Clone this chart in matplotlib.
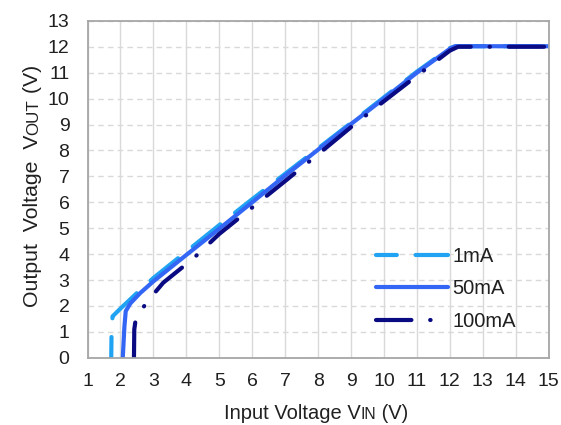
import matplotlib
matplotlib.use("Agg")
import matplotlib.pyplot as plt

plt.rcParams['font.family'] = ['Liberation Sans', 'DejaVu Sans']

# data
vin_1ma = [1.72, 1.73, 1.76, 2.0, 2.5, 3.0, 4.0, 5.0, 6.0, 7.0, 8.0, 9.0, 10.0, 11.0, 12.0, 12.2, 13.0, 14.0, 15.0]
vout_1ma = [0.0, 1.0, 1.6, 1.9, 2.5, 3.08, 4.1, 5.12, 6.12, 7.1, 8.08, 9.06, 10.05, 11.04, 11.95, 12.02, 12.02, 12.02, 12.02]

vin_50ma = [2.07, 2.12, 2.16, 2.3, 2.6, 3.0, 4.0, 5.0, 6.0, 7.0, 8.0, 9.0, 10.0, 11.0, 12.0, 12.15, 13.0, 14.0, 15.0]
vout_50ma = [0.0, 1.2, 1.8, 2.1, 2.5, 2.95, 3.97, 4.98, 6.0, 7.03, 8.03, 9.02, 10.0, 11.0, 11.92, 12.02, 12.02, 12.02, 12.02]

vin_100ma = [2.41, 2.42, 2.47, 2.6, 3.0, 3.3, 4.2, 5.0, 6.0, 7.0, 8.0, 9.0, 10.0, 11.0, 12.0, 12.25, 13.0, 14.0, 15.0]
vout_100ma = [0.0, 1.1, 1.55, 1.8, 2.45, 2.9, 3.82, 4.78, 5.8, 6.82, 7.85, 8.9, 9.9, 10.88, 11.85, 12.0, 12.0, 12.0, 12.0]

labels = ['1mA', '50mA', '100mA']
colors = ['#1FA3F2', '#3366F5', '#0A0A82']

x_ticks = list(range(1, 16))
y_ticks = list(range(0, 14))

FS = 14        # tick labels
LFS = 14.5     # axis labels and legend

fig = plt.figure(figsize=(5.61, 4.25), dpi=100)
ax = fig.add_axes([0.156, 0.158, 0.822, 0.793])

lw = 3.0
ax.plot(vin_1ma, vout_1ma, color=colors[0], lw=lw, label=labels[0],
        linestyle=(3.5, (8.5, 4.5)), dash_capstyle='round', solid_capstyle='round')
ax.plot(vin_50ma, vout_50ma, color=colors[1], lw=lw, label=labels[1],
        solid_capstyle='round')
ax.plot(vin_100ma, vout_100ma, color=colors[2], lw=lw, label=labels[2],
        linestyle=(0, (8.5, 4.5, 0.1, 4.5)), dash_capstyle='round')

ax.set_xlim(1, 15)
ax.set_ylim(0, 13)
ax.set_xticks(x_ticks)
ax.set_yticks(y_ticks)
ax.tick_params(length=0, labelsize=FS, colors='#202020')
ax.tick_params(axis='y', pad=13)
ax.tick_params(axis='x', pad=11)

ax.grid(axis='x', color='#D9D9D9', lw=1.0, ls='-')
ax.grid(axis='y', color='#D9D9D9', lw=1.0, ls=(0, (4, 3)))
ax.set_axisbelow(True)
for s in ax.spines.values():
    s.set_color('#A6A6A6')
    s.set_linewidth(1.3)

leg = ax.legend(loc='center left', bbox_to_anchor=(0.626, 0.205), frameon=False,
                fontsize=LFS, handlelength=3.55, handletextpad=0.25,
                labelspacing=0.67, borderpad=0, borderaxespad=0)
for t in leg.get_texts():
    t.set_color('#202020')

# axis labels with small caps style "IN" / "OUT"
fig.canvas.draw()
renderer = fig.canvas.get_renderer()


def mixed_label(x, y, parts, rotation=0):
    # measure each piece then lay them out along one baseline
    widths = []
    for s, size in parts:
        t = fig.text(0, 0, s, fontsize=size)
        widths.append(t.get_window_extent(renderer).width)
        t.remove()
    total = sum(widths)
    px, py = fig.transFigure.transform((x, y))
    if rotation == 0:
        pos = px - total / 2
        for (s, size), w in zip(parts, widths):
            fig.text(pos, py, s, fontsize=size, color='#202020', ha='left',
                     va='baseline', transform=None)
            pos += w
    else:
        pos = py - total / 2
        for (s, size), w in zip(parts, widths):
            fig.text(px, pos, s, fontsize=size, color='#202020', ha='left',
                     va='baseline', rotation=90, rotation_mode='anchor',
                     transform=None)
            pos += w


mixed_label(0.564, 0.015, [('Input Voltage V', LFS), ('IN', LFS * 0.78), (' (V)', LFS)])
mixed_label(0.068, 0.562, [('Output  Voltage  V', 15.3), ('OUT', 15.3 * 0.8), (' (V)', 15.3)],
            rotation=90)

fig.savefig('out.png', dpi=100)
